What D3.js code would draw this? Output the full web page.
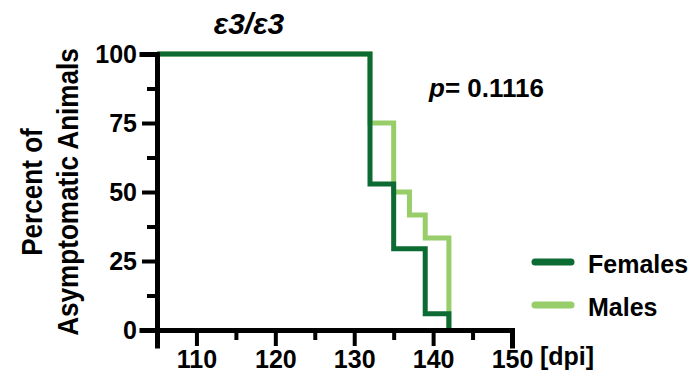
<!DOCTYPE html>
<html>
<head>
<meta charset="utf-8">
<script src="https://cdn.jsdelivr.net/npm/d3@7"></script>
<style>
  body { margin: 0; background: #fff; }
  text { font-family: "Liberation Sans", Arial, sans-serif; font-weight: bold; }
</style>
</head>
<body>
<div id="chart"></div>
<script>
// survival steps: days where the curve drops and the percent after it
const femaleDays = [105, 132, 135, 139, 142];
const femalePct = [100, 52.9, 29.4, 5.9, 0];
const maleDays = [105, 132, 135, 137, 139, 142];
const malePct = [100, 75, 50, 41.7, 33.3, 0];
const xTicks = [110, 120, 130, 140, 150];
const xMinor = [105, 115, 125, 135, 145];
const yTicks = [0, 25, 50, 75, 100];
const yMinor = [12.5, 37.5, 62.5, 87.5];
const seriesNames = ["Females", "Males"];
const colors = ["#0c6b32", "#98ce69"];

const W = 693, H = 386;
const margin = { top: 54, left: 157, right: 181, bottom: 56 };
const width = W - margin.left - margin.right;
const height = H - margin.top - margin.bottom;

const svg = d3.select("#chart").append("svg")
  .attr("width", W).attr("height", H);
const g = svg.append("g").attr("transform", `translate(${margin.left},${margin.top})`);

const x = d3.scaleLinear().domain([105, 150]).range([0, width]);
const y = d3.scaleLinear().domain([0, 100]).range([height, 0]);

const line = d3.line()
  .x(d => x(d[0])).y(d => y(d[1]))
  .curve(d3.curveStepAfter);

function steps(days, pct) {
  return days.map((d, i) => [d, pct[i]]);
}

// males first so females are drawn on top
g.append("path")
  .datum(steps(maleDays, malePct))
  .attr("d", line)
  .attr("fill", "none").attr("stroke", colors[1]).attr("stroke-width", 5);
g.append("path")
  .datum(steps(femaleDays, femalePct))
  .attr("d", line)
  .attr("fill", "none").attr("stroke", colors[0]).attr("stroke-width", 5);

// axes
const yAxis = g.append("g")
  .call(d3.axisLeft(y).tickValues(yTicks).tickSize(15).tickPadding(5));
const yAxisMinor = g.append("g")
  .call(d3.axisLeft(y).tickValues(yMinor).tickSize(10).tickFormat(""));
const xAxis = g.append("g").attr("transform", `translate(0,${height})`)
  .call(d3.axisBottom(x).tickValues(xTicks).tickSize(16).tickPadding(4));
const xAxisMinor = g.append("g").attr("transform", `translate(0,${height})`)
  .call(d3.axisBottom(x).tickValues(xMinor).tickSize(10).tickFormat(""));

[yAxis, yAxisMinor, xAxis, xAxisMinor].forEach(a => {
  a.attr("font-size", null).attr("font-family", null);
  a.select(".domain").attr("stroke", "#000").attr("stroke-width", 5)
    .attr("stroke-linecap", "square");
  a.selectAll(".tick line").attr("stroke", "#000").attr("stroke-width", 4);
  a.selectAll(".tick text")
    .attr("fill", "#000")
    .style("font-size", "25px");
});
yAxisMinor.select(".domain").remove();
xAxisMinor.select(".domain").remove();

// x unit label
g.append("text")
  .attr("x", 383)
  .attr("y", height + 35)
  .style("font-size", "25px")
  .text("[dpi]");

// y label, slightly condensed
g.append("text")
  .attr("transform", `translate(${42 - margin.left},${192 - margin.top}) rotate(-90) scale(0.87,1)`)
  .attr("text-anchor", "middle")
  .style("font-size", "30px")
  .text("Percent of");
g.append("text")
  .attr("transform", `translate(${78 - margin.left},${192 - margin.top}) rotate(-90) scale(0.87,1)`)
  .attr("text-anchor", "middle")
  .style("font-size", "30px")
  .text("Asymptomatic Animals");

// title
svg.append("text")
  .attr("x", 249).attr("y", 34)
  .attr("text-anchor", "middle")
  .style("font-size", "30px")
  .style("font-style", "italic")
  .text("ε3/ε3");

// p value
const pText = svg.append("text")
  .attr("x", 429).attr("y", 97)
  .style("font-size", "26px");
pText.append("tspan").style("font-style", "italic").text("p");
pText.append("tspan").text("= 0.1116");

// legend
const legend = svg.append("g").attr("transform", "translate(535,262)");
seriesNames.forEach((name, i) => {
  const row = legend.append("g").attr("transform", `translate(0,${i * 43})`);
  row.append("line")
    .attr("x1", 0).attr("x2", 36).attr("y1", 0).attr("y2", 0)
    .attr("stroke", colors[i]).attr("stroke-width", 7)
    .attr("stroke-linecap", "round");
  row.append("text")
    .attr("x", 53).attr("y", 11)
    .style("font-size", "25px")
    .text(name);
});
</script>
</body>
</html>
